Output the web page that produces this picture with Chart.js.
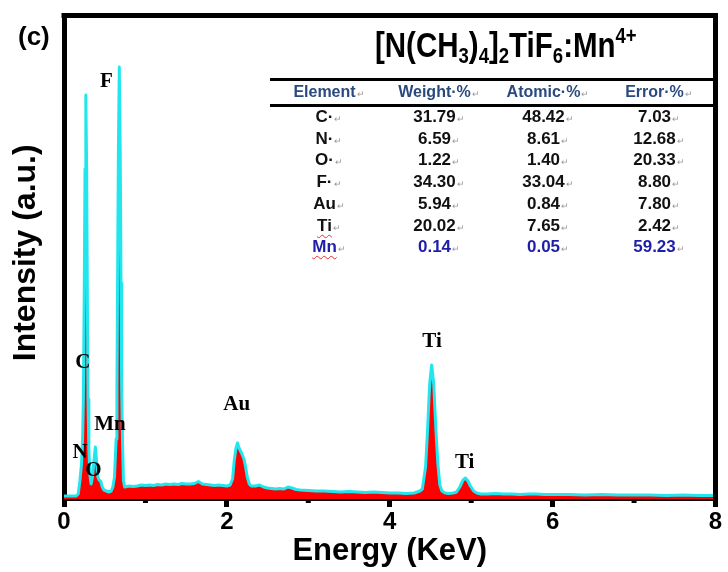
<!DOCTYPE html>
<html><head><meta charset="utf-8">
<script src="https://cdn.jsdelivr.net/npm/chart.js@4"></script>
<style>
html,body{margin:0;padding:0;background:#fff;}
#wrap{position:relative;width:728px;height:572px;overflow:hidden;background:#fff;}
canvas{position:absolute;left:0;top:0;}
.ov{position:absolute;font-family:"Liberation Sans",Arial,sans-serif;font-weight:bold;white-space:nowrap;color:#000;}
#panel{left:18px;top:23px;font-size:26px;line-height:26px;}
#title{left:375px;top:27px;font-size:35px;line-height:35px;transform-origin:0 0;}
#title sub{font-size:22px;line-height:0;vertical-align:-6px;}
#title sup{font-size:22px;line-height:0;vertical-align:14px;}
.hline{position:absolute;left:270px;width:445px;height:3px;background:#000;}
.cell{position:absolute;transform:translate(-50%,-50%);font-family:"Liberation Sans",Arial,sans-serif;font-weight:bold;font-size:17px;line-height:19px;white-space:nowrap;color:#111;}
.hdr{color:#2a4a7f;font-size:16px;}
.pm{font-size:9px;font-weight:normal;color:#9a9a9a;margin-left:1px;}
.sq{text-decoration:underline wavy #e03030;text-decoration-thickness:1px;text-underline-offset:3px;}
.blue{color:#1e1eaa;}
</style></head>
<body><div id="wrap"><canvas id="c" width="728" height="572"></canvas>
<div id="panel" class="ov">(c)</div>
<div id="title" class="ov">[N(CH<sub>3</sub>)<sub>4</sub>]<sub>2</sub>TiF<sub>6</sub>:Mn<sup>4+</sup></div>
<div id="table"></div>
</div>
<script>
// ---- spectrum (Energy in keV, intensity in arbitrary units) ----
const energy = [
0.00,0.08,0.15,0.175,0.195,0.215,0.228,0.238,0.248,0.258,0.268,0.278,0.287,0.295,0.305,0.318,0.333,
0.35,0.37,0.385,0.40,0.415,0.43,0.45,0.47,0.49,0.52,0.55,0.58,0.60,
0.62,0.64,0.65,0.658,0.668,0.679,0.690,0.700,0.708,0.718,0.73,0.745,
0.80,0.85,0.90,0.95,1.00,1.05,1.10,1.15,1.20,1.25,1.30,1.35,1.40,1.45,1.50,1.55,1.60,1.65,1.70,1.75,1.80,1.85,1.90,1.95,2.00,2.04,
2.07,2.09,2.11,2.13,2.15,2.18,2.21,2.23,2.25,2.275,2.30,
2.35,2.40,2.45,2.50,2.55,2.60,2.65,2.70,2.75,2.80,2.85,2.90,3.00,3.10,3.20,3.30,3.40,3.50,3.60,3.70,3.80,3.90,4.00,4.10,4.20,4.30,4.37,
4.40,4.44,4.465,4.49,4.515,4.54,4.565,4.59,4.615,4.64,4.68,4.72,4.78,4.82,4.86,4.90,4.93,4.96,4.99,5.03,5.07,5.12,
5.2,5.3,5.4,5.5,5.6,5.7,5.8,5.9,6.0,6.2,6.4,6.6,6.8,7.0,7.2,7.4,7.6,7.8,8.0];
const intensity = [
3,3,3,5,18,35,60,100,200,330,404,330,200,100,50,24,15,
22,40,52,38,22,19,18,12,9,8,7,8,12,
22,60,110,216,350,432,350,216,110,60,18,12,
13,12.5,13,14,13.5,14,13.5,14.5,14,15,14.5,15,14.5,15.5,15,15,15.5,17.5,15,14.5,14,13.5,14,13.5,13,14,
20,38,50,56,51,46,40,32,22,15,13,
13,14,12,11,10.5,10,10.5,10,12,11,9.5,9,8.5,8,8,7.5,7,7.5,7,6.5,7,6.5,6,6,5.5,6,8,
10,32,70,115,134,115,72,36,14,8,6,5.5,6,7,12,19,21,18,13,8,6,5,
5,5.5,5,5,4.5,5,5,4.5,4.5,4.5,4,4.5,4,4,4,3.5,4,3.5,3.5];

const xMajorTicks = [0,2,4,6,8];
const xMinorTicks = [1,3,5,7];

// peak annotations (energy keV, intensity level)
const peakNames  = ['F','C','Mn','N','O','Au','Ti','Ti'];
const peakLabelE = [0.52,0.23,0.565,0.196,0.36,2.12,4.52,4.92];
const peakLabelI = [417,136,74,46,28,94,157,36];

// EDS table
const tableHeader = ['Element','Weight·%','Atomic·%','Error·%'];
const elements  = ['C·','N·','O·','F·','Au','Ti','Mn'];
const weightPct = ['31.79','6.59','1.22','34.30','5.94','20.02','0.14'];
const atomicPct = ['48.42','8.61','1.40','33.04','0.84','7.65','0.05'];
const errorPct  = ['7.03','12.68','20.33','8.80','7.80','2.42','59.23'];

// ---- title fit ----
const t = document.getElementById('title');
t.style.transform = 'scaleX(' + (262 / t.offsetWidth) + ')';

// ---- table ----
const tb = document.getElementById('table');
const colX = [329,439,548,659];
function addLine(y){const d=document.createElement('div');d.className='hline';d.style.top=y+'px';tb.appendChild(d);}
addLine(78); addLine(103.5);
function addCell(x,y,txt,cls,extra){
  const s=document.createElement('div'); s.className='cell '+(cls||'');
  s.style.left=x+'px'; s.style.top=y+'px';
  const main=document.createElement('span'); main.textContent=txt; if(extra) main.className=extra;
  s.appendChild(main);
  const pm=document.createElement('span'); pm.className='pm'; pm.textContent='↵'; s.appendChild(pm);
  tb.appendChild(s);
}
tableHeader.forEach((h,i)=>addCell(colX[i],93,h,'hdr'));
const rowY0=118, rowDy=21.7;
elements.forEach((el,r)=>{
  const y=rowY0+r*rowDy;
  const blue = el==='Mn' ? 'blue' : '';
  addCell(colX[0],y,el,blue,(el==='Ti'||el==='Mn')?'sq':'');
  addCell(colX[1],y,weightPct[r],blue);
  addCell(colX[2],y,atomicPct[r],blue);
  addCell(colX[3],y,errorPct[r],blue);
});

// ---- chart ----
const points = energy.map((e,i)=>({x:e,y:intensity[i]}));

const decorPlugin = {
  id:'decor',
  afterDraw(chart){
    const {ctx, chartArea:a, scales:{x,y}} = chart;
    ctx.save();
    // frame top & right
    ctx.strokeStyle='#000'; ctx.lineWidth=5;
    ctx.beginPath();
    ctx.moveTo(a.left-2.5,a.top); ctx.lineTo(a.right,a.top); ctx.lineTo(a.right,a.bottom+2);
    ctx.stroke();
    // minor ticks
    ctx.fillStyle='#000';
    xMinorTicks.forEach(v=>{const px=x.getPixelForValue(v); ctx.fillRect(px-2.5,a.bottom,5,4);});
    // peak labels
    ctx.font='bold 21px "Liberation Serif","Times New Roman",serif';
    ctx.textAlign='center'; ctx.textBaseline='middle'; ctx.fillStyle='#000';
    peakNames.forEach((n,i)=>ctx.fillText(n,x.getPixelForValue(peakLabelE[i]),y.getPixelForValue(peakLabelI[i])));
    ctx.restore();
  }
};

new Chart(document.getElementById('c'),{
  type:'line',
  data:{datasets:[{
    data:points,
    borderColor:'#22e6ee',
    borderWidth:3,
    borderJoinStyle:'round',
    backgroundColor:'#ff0000',
    fill:'origin',
    pointRadius:0,
    tension:0
  }]},
  options:{
    responsive:false,
    animation:false,
    events:[],
    layout:{padding:{left:0,right:12.5,top:15.5,bottom:0}},
    plugins:{legend:{display:false},tooltip:{enabled:false}},
    scales:{
      x:{
        type:'linear', min:0, max:8, z:1,
        afterBuildTicks(s){ s.ticks = xMajorTicks.map(v=>({value:v})); },
        afterFit(s){ s.height = 73; },
        border:{display:true,color:'#000',width:4},
        grid:{drawOnChartArea:false,drawTicks:true,tickLength:8,tickWidth:5,tickColor:'#000'},
        ticks:{color:'#000',padding:1,font:{family:'"Liberation Sans",Arial,sans-serif',weight:'bold',size:24},maxRotation:0},
        title:{display:true,text:'Energy (KeV)',color:'#000',padding:{top:0,bottom:2},font:{family:'"Liberation Sans",Arial,sans-serif',weight:'bold',size:31}}
      },
      y:{
        min:0, max:483.5, z:1,
        afterFit(s){ s.width = 64; },
        border:{display:true,color:'#000',width:5},
        grid:{display:false},
        ticks:{display:false},
        title:{display:true,text:' Intensity (a.u.)',color:'#000',padding:{top:7,bottom:0},font:{family:'"Liberation Sans",Arial,sans-serif',weight:'bold',size:32}}
      }
    }
  },
  plugins:[decorPlugin]
});
</script>
</body></html>
